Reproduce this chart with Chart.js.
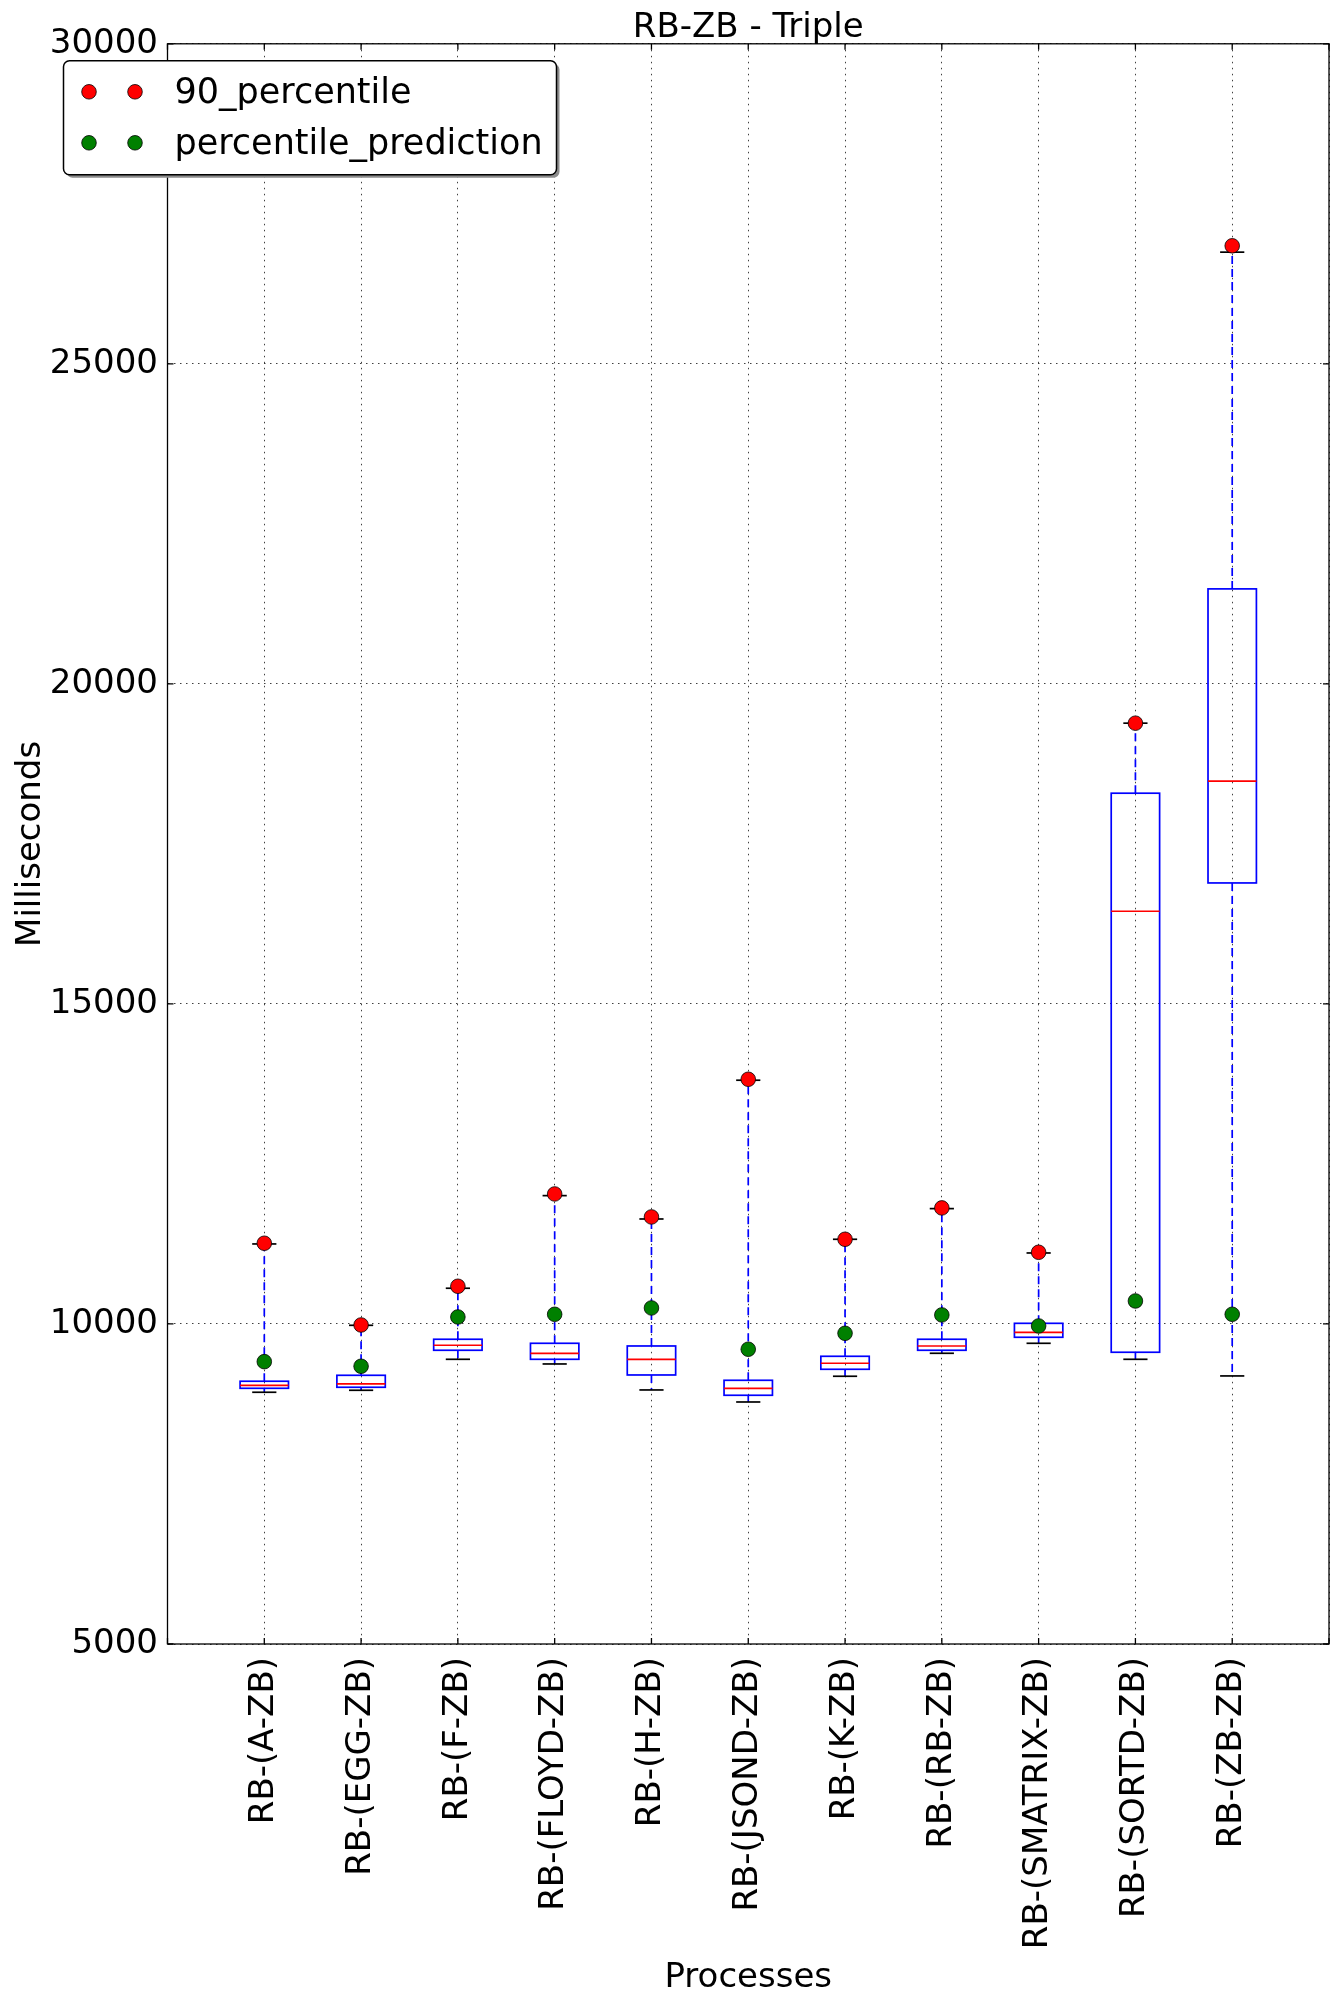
<!DOCTYPE html>
<html>
<head>
<meta charset="utf-8">
<script src="https://cdn.jsdelivr.net/npm/chart.js@4.4.1/dist/chart.umd.min.js"></script>
<style>
  body { margin: 0; background: #fff; }
  #wrap { width: 1339px; height: 2003px; }
</style>
</head>
<body>
<div id="wrap"><canvas id="graf" width="1339" height="2003"></canvas></div>
<script>
// valores (ms)
const processes = ['RB-(A-ZB)', 'RB-(EGG-ZB)', 'RB-(F-ZB)', 'RB-(FLOYD-ZB)', 'RB-(H-ZB)',
  'RB-(JSOND-ZB)', 'RB-(K-ZB)', 'RB-(RB-ZB)', 'RB-(SMATRIX-ZB)', 'RB-(SORTD-ZB)', 'RB-(ZB-ZB)']
const whiskerLow  = [8933, 8964, 9448, 9375, 8969, 8781, 9183, 9542, 9698, 9448, 9188]
const q1          = [8995, 9011, 9589, 9448, 9203, 8886, 9292, 9589, 9792, 9558, 16890]
const median      = [9042, 9063, 9667, 9542, 9448, 8995, 9386, 9656, 9870, 16448, 18480]
const q3          = [9105, 9198, 9761, 9698, 9656, 9120, 9495, 9761, 10010, 18292, 21484]
const whiskerHigh = [11250, 9979, 10558, 12005, 11640, 13808, 11323, 11802, 11109, 19386, 26745]
const percentile90 = [11261, 9984, 10589, 12031, 11672, 13823, 11323, 11813, 11120, 19386, 26844]
const prediction   = [9411, 9339, 10109, 10151, 10250, 9605, 9854, 10141, 9969, 10359, 10151]
const yMin = 5000, yMax = 30000, yStep = 5000

Chart.defaults.font.family = "'DejaVu Sans', sans-serif"
Chart.defaults.font.size = 34
Chart.defaults.color = '#000'

const ctx = document.getElementById('graf').getContext('2d')

// caixas (boxplot) desenhadas com as escalas do próprio gráfico
const boxPlugin = {
  id: 'boxes',
  beforeDatasetsDraw(chart) {
    const { ctx, scales: { x, y } } = chart
    const unit = x.getPixelForValue(1) - x.getPixelForValue(0)
    const half = unit * 0.25
    const cap = unit * 0.125
    const line = (x1, y1, x2, y2) => { ctx.beginPath(); ctx.moveTo(x1, y1); ctx.lineTo(x2, y2); ctx.stroke() }
    ctx.save()
    processes.forEach((p, i) => {
      const cx = x.getPixelForValue(i + 1)
      const yLo = y.getPixelForValue(whiskerLow[i])
      const yQ1 = y.getPixelForValue(q1[i])
      const yMed = y.getPixelForValue(median[i])
      const yQ3 = y.getPixelForValue(q3[i])
      const yHi = y.getPixelForValue(whiskerHigh[i])
      // bigodes
      ctx.strokeStyle = '#0000ff'
      ctx.lineWidth = 1.7
      ctx.setLineDash([8, 5])
      line(cx, yQ3, cx, yHi)
      line(cx, yQ1, cx, yLo)
      ctx.setLineDash([])
      // tampas
      ctx.strokeStyle = '#000'
      line(cx - cap, yHi, cx + cap, yHi)
      line(cx - cap, yLo, cx + cap, yLo)
      // caixa
      ctx.strokeStyle = '#0000ff'
      ctx.strokeRect(cx - half, yQ3, half * 2, yQ1 - yQ3)
      // mediana
      ctx.strokeStyle = '#ff0000'
      line(cx - half, yMed, cx + half, yMed)
    })
    ctx.restore()
  },
  afterDraw(chart) {
    const { ctx, chartArea: a, scales: { x, y } } = chart
    ctx.save()
    ctx.strokeStyle = '#000'
    ctx.lineWidth = 1.3
    // marcas dos ticks para dentro
    y.ticks.forEach(t => {
      const py = y.getPixelForValue(t.value)
      ctx.beginPath(); ctx.moveTo(a.left, py); ctx.lineTo(a.left + 6, py)
      ctx.moveTo(a.right, py); ctx.lineTo(a.right - 6, py); ctx.stroke()
    })
    x.ticks.forEach(t => {
      const px = x.getPixelForValue(t.value)
      ctx.beginPath(); ctx.moveTo(px, a.bottom); ctx.lineTo(px, a.bottom - 6)
      ctx.moveTo(px, a.top); ctx.lineTo(px, a.top + 6); ctx.stroke()
    })
    ctx.strokeRect(a.left, a.top, a.right - a.left, a.bottom - a.top)

    // legenda (dois marcadores por entrada)
    const lx = a.left - 104, ly = a.top + 17, lw = 493, lh = 114
    const rr = (px, py) => { ctx.beginPath(); ctx.roundRect(px, py, lw, lh, 6) }
    ctx.fillStyle = '#8c8c8c'
    rr(lx + 3, ly + 3); ctx.fill()
    ctx.fillStyle = '#fff'
    rr(lx, ly); ctx.fill()
    ctx.lineWidth = 1.5
    ctx.stroke()
    ctx.textBaseline = 'middle'
    ctx.font = "35px 'DejaVu Sans'"
    chart.data.datasets.forEach((ds, i) => {
      const cy = ly + 31 + i * 51
      ;[25.5, 71.5].forEach(dx => {
        ctx.beginPath()
        ctx.arc(lx + dx, cy, 7.3, 0, Math.PI * 2)
        ctx.fillStyle = ds.backgroundColor
        ctx.fill()
        ctx.lineWidth = 0.8
        ctx.strokeStyle = '#000'
        ctx.stroke()
      })
      ctx.fillStyle = '#000'
      ctx.fillText(ds.label, lx + 111, cy + 2)
    })
    ctx.restore()
  }
}

const data = {
  datasets: [{
    label: '90_percentile',
    data: percentile90.map((v, i) => ({ x: i + 1, y: v })),
    backgroundColor: '#ff0000',
    borderColor: '#000',
    pointRadius: 7.3,
    pointBorderWidth: 0.8
  }, {
    label: 'percentile_prediction',
    data: prediction.map((v, i) => ({ x: i + 1, y: v })),
    backgroundColor: '#008000',
    borderColor: '#000',
    pointRadius: 7.3,
    pointBorderWidth: 0.8
  }]
}

const config = {
  type: 'scatter',
  data: data,
  options: {
    responsive: false,
    animation: false,
    layout: { padding: { left: 0, right: 10, top: 0, bottom: 0 } },
    plugins: {
      legend: { display: false },
      tooltip: { enabled: false },
      title: {
        display: true,
        text: 'RB-ZB - Triple',
        fullSize: false,
        color: '#000',
        font: { size: 34, weight: 'normal' },
        padding: { top: 7.5, bottom: -4.5 }
      }
    },
    scales: {
      x: {
        type: 'linear',
        min: 0,
        max: 12,
        z: 1,
        grid: { color: 'rgba(0,0,0,0.75)', lineWidth: 1, drawTicks: false },
        border: { display: false, dash: [1.5, 4.5] },
        ticks: {
          stepSize: 1,
          autoSkip: false,
          minRotation: 90,
          maxRotation: 90,
          padding: 13,
          callback: v => (v >= 1 && v <= processes.length) ? processes[v - 1] : ''
        },
        title: { display: true, text: 'Processes', padding: { top: 0, bottom: 4 } },
        afterFit: s => { s.height = 359; s.paddingLeft = 0; s.paddingRight = 0 }
      },
      y: {
        type: 'linear',
        min: yMin,
        max: yMax,
        z: 1,
        grid: { color: 'rgba(0,0,0,0.75)', lineWidth: 1, drawTicks: false },
        border: { display: false, dash: [1.5, 4.5] },
        ticks: { stepSize: yStep, padding: 9.5, callback: v => String(v) },
        title: { display: true, text: 'Milliseconds', padding: { top: 10.5, bottom: 0 } },
        afterFit: s => { s.width = 167.5 }
      }
    }
  },
  plugins: [boxPlugin]
}

const grafic = new Chart(ctx, config)
</script>
</body>
</html>
